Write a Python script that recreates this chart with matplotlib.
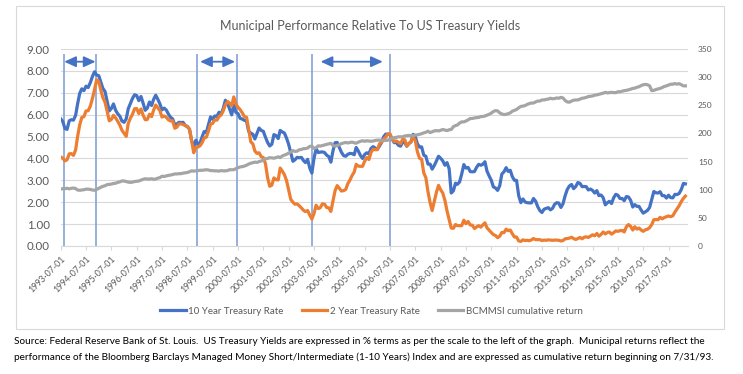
import numpy as np
import pandas as pd
import matplotlib
matplotlib.use("Agg")
import matplotlib.pyplot as plt
import matplotlib.dates as mdates
from matplotlib.patches import Rectangle
from matplotlib.lines import Line2D

plt.rcParams['font.family'] = ['Lato', 'DejaVu Sans']

title = "Municipal Performance Relative To US Treasury Yields"
series_names = ["10 Year Treasury Rate", "2 Year Treasury Rate", "BCMMSI cumulative return"]

# monthly observations, 1993-07 .. 2018-03
start_month = "1993-07-01"
end_month = "2018-03-01"

ten_year = [
    5.81, 5.68, 5.36, 5.33, 5.72, 5.77,
    5.75, 5.97, 6.48, 6.97, 7.18, 7.10, 7.30, 7.24, 7.46, 7.74, 7.96, 7.81,
    7.78, 7.47, 7.20, 7.06, 6.63, 6.17, 6.28, 6.49, 6.20, 6.04, 5.93, 5.71,
    5.65, 5.81, 6.27, 6.51, 6.74, 6.91, 6.87, 6.64, 6.83, 6.53, 6.20, 6.30,
    6.58, 6.42, 6.69, 6.89, 6.71, 6.49, 6.22, 6.30, 6.21, 6.03, 5.88, 5.81,
    5.54, 5.57, 5.65, 5.64, 5.65, 5.50, 5.46, 5.34, 4.81, 4.53, 4.83, 4.65,
    4.72, 5.00, 5.23, 5.18, 5.54, 5.90, 5.79, 5.94, 5.92, 6.11, 6.03, 6.28,
    6.66, 6.52, 6.26, 5.99, 6.44, 6.10, 6.05, 5.83, 5.80, 5.74, 5.72, 5.24,
    5.16, 5.10, 4.89, 5.14, 5.39, 5.28, 5.24, 4.97, 4.73, 4.57, 4.65, 5.09,
    5.04, 4.91, 5.28, 5.21, 5.16, 4.93, 4.65, 4.26, 3.87, 3.94, 4.05, 4.03,
    4.05, 3.90, 3.81, 3.96, 3.57, 3.33, 3.98, 4.45, 4.27, 4.29, 4.30, 4.27,
    4.15, 4.08, 3.83, 4.35, 4.72, 4.73, 4.50, 4.28, 4.13, 4.10, 4.19, 4.23,
    4.22, 4.17, 4.50, 4.34, 4.14, 4.00, 4.18, 4.26, 4.20, 4.46, 4.54, 4.47,
    4.42, 4.57, 4.72, 4.99, 5.11, 5.11, 5.09, 4.88, 4.72, 4.73, 4.60, 4.56,
    4.76, 4.72, 4.56, 4.69, 4.75, 5.10, 5.00, 4.67, 4.52, 4.53, 4.15, 4.10,
    3.74, 3.74, 3.51, 3.68, 3.88, 4.10, 4.01, 3.89, 3.69, 3.81, 3.53, 2.42,
    2.52, 2.87, 2.82, 2.93, 3.29, 3.72, 3.56, 3.59, 3.40, 3.39, 3.40, 3.59,
    3.73, 3.69, 3.73, 3.85, 3.42, 3.20, 3.01, 2.70, 2.65, 2.54, 2.76, 3.29,
    3.39, 3.58, 3.41, 3.46, 3.17, 3.00, 3.00, 2.30, 1.98, 2.15, 2.01, 1.98,
    1.97, 1.97, 2.17, 2.05, 1.80, 1.62, 1.53, 1.68, 1.72, 1.75, 1.65, 1.72,
    1.91, 1.98, 1.96, 1.76, 1.93, 2.30, 2.58, 2.74, 2.81, 2.62, 2.72, 2.90,
    2.86, 2.71, 2.72, 2.71, 2.56, 2.60, 2.54, 2.42, 2.53, 2.30, 2.33, 2.21,
    1.88, 1.98, 2.04, 1.94, 2.20, 2.36, 2.32, 2.17, 2.17, 2.07, 2.26, 2.24,
    2.09, 1.78, 1.89, 1.81, 1.81, 1.64, 1.50, 1.56, 1.63, 1.76, 2.14, 2.49,
    2.43, 2.42, 2.48, 2.30, 2.30, 2.19, 2.32, 2.21, 2.20, 2.36, 2.35, 2.40,
    2.58, 2.86, 2.84,
]

two_year = [
    4.07, 4.00, 3.89, 3.94, 4.21, 4.22,
    4.14, 4.39, 4.99, 5.53, 5.87, 5.91, 6.17, 6.18, 6.39, 6.73, 7.15, 7.59,
    7.51, 7.11, 6.78, 6.57, 6.17, 5.72, 5.78, 5.97, 5.85, 5.70, 5.52, 5.29,
    5.15, 5.01, 5.60, 5.84, 6.02, 6.27, 6.28, 6.05, 6.26, 5.98, 5.77, 5.78,
    6.02, 5.91, 6.20, 6.44, 6.32, 6.18, 5.89, 5.94, 5.88, 5.77, 5.71, 5.72,
    5.38, 5.43, 5.57, 5.58, 5.55, 5.51, 5.46, 5.34, 4.81, 4.26, 4.51, 4.52,
    4.58, 4.73, 4.94, 4.97, 5.24, 5.57, 5.60, 5.76, 5.75, 5.91, 5.99, 6.17,
    6.45, 6.60, 6.53, 6.40, 6.81, 6.48, 6.34, 6.23, 6.08, 5.91, 5.88, 5.35,
    4.76, 4.66, 4.34, 4.23, 4.26, 4.08, 4.04, 3.76, 3.12, 2.73, 2.78, 3.11,
    3.03, 3.02, 3.56, 3.42, 3.26, 2.99, 2.56, 2.13, 2.00, 1.91, 1.92, 1.84,
    1.74, 1.63, 1.57, 1.62, 1.42, 1.23, 1.47, 1.86, 1.71, 1.75, 1.93, 1.91,
    1.76, 1.74, 1.58, 2.07, 2.53, 2.76, 2.64, 2.51, 2.53, 2.58, 2.85, 3.01,
    3.22, 3.38, 3.73, 3.65, 3.64, 3.64, 3.87, 4.04, 3.95, 4.27, 4.42, 4.40,
    4.40, 4.67, 4.73, 4.89, 4.97, 5.12, 5.12, 4.90, 4.77, 4.80, 4.74, 4.67,
    4.88, 4.85, 4.57, 4.67, 4.77, 4.96, 4.82, 4.31, 4.01, 3.97, 3.34, 3.12,
    2.48, 1.97, 1.62, 2.05, 2.45, 2.77, 2.57, 2.42, 2.08, 1.61, 1.21, 0.82,
    0.81, 0.98, 0.93, 0.93, 0.93, 1.18, 1.02, 1.12, 0.96, 0.95, 0.80, 0.87,
    0.93, 0.86, 0.96, 1.06, 0.83, 0.72, 0.62, 0.52, 0.48, 0.38, 0.45, 0.62,
    0.61, 0.77, 0.70, 0.73, 0.56, 0.41, 0.41, 0.23, 0.21, 0.28, 0.25, 0.26,
    0.24, 0.28, 0.34, 0.29, 0.29, 0.29, 0.25, 0.27, 0.26, 0.28, 0.27, 0.26,
    0.27, 0.27, 0.26, 0.23, 0.25, 0.33, 0.34, 0.36, 0.40, 0.34, 0.30, 0.34,
    0.39, 0.33, 0.40, 0.42, 0.39, 0.45, 0.51, 0.47, 0.57, 0.45, 0.53, 0.64,
    0.55, 0.62, 0.64, 0.54, 0.61, 0.69, 0.67, 0.70, 0.71, 0.64, 0.88, 0.98,
    0.90, 0.73, 0.88, 0.77, 0.82, 0.73, 0.67, 0.74, 0.77, 0.84, 0.98, 1.20,
    1.21, 1.20, 1.31, 1.24, 1.30, 1.34, 1.37, 1.34, 1.38, 1.55, 1.70, 1.84,
    2.03, 2.18, 2.28,
]

bcmmsi = [
    101, 102, 102, 102.5, 101.5, 102.5,
    103, 102, 99.5, 99, 99.5, 100, 101, 101, 100.5, 99.5, 99, 100.5,
    102.5, 104.5, 106, 107, 109, 109.5, 110, 111, 111.5, 113, 114, 115.5,
    115.5, 114.5, 113.5, 113, 113.5, 114.5, 115, 115.5, 117, 118.5, 119.5, 119,
    119, 119.5, 118.5, 119, 120.5, 121.5, 124, 123.5, 124.5, 125.5, 126, 127,
    128, 128, 128.5, 128.5, 129.5, 130, 130.5, 132, 133.5, 133, 133.5, 134,
    134.5, 134.5, 135, 135.5, 135, 134, 134, 133.5, 133.5, 133, 134, 133.5,
    133.5, 134, 135.5, 135.5, 135.5, 137.5, 139, 140.5, 141, 142, 143.5, 145.5,
    147, 148, 149, 148.5, 150, 151, 153, 155, 155.5, 157, 156.5, 156,
    157, 158.5, 157, 160, 161.5, 163, 165, 167, 169.5, 168, 168.5, 171,
    171.5, 173, 173, 174, 177, 177.5, 173.5, 174.5, 178, 177.5, 178.5, 179.5,
    180.5, 181.5, 182.5, 178.5, 177.5, 178.5, 180, 182, 183, 184, 183, 184,
    184.5, 183.5, 182.5, 184.5, 186, 187, 186, 187, 186.5, 186, 186.5, 187.5,
    188, 188, 187.5, 187.5, 187.5, 188, 189.5, 191.5, 192.5, 193, 194, 194,
    194, 195.5, 196, 196.5, 196, 196, 197, 197.5, 198.5, 199.5, 201, 202,
    204, 201.5, 203, 204.5, 205, 204.5, 205.5, 207, 206, 205, 206.5, 207,
    212, 214, 215, 218.5, 220.5, 220.5, 222, 224, 226.5, 226.5, 227.5, 228,
    228.5, 230, 230, 231, 232.5, 234, 236, 239, 240.5, 240, 236.5, 234.5,
    233.5, 234, 235, 236.5, 239.5, 241, 242.5, 245.5, 248, 248.5, 249.5, 251.5,
    253, 254, 254, 256, 257.5, 257.5, 259.5, 259.5, 260.5, 261, 262.5, 261.5,
    262, 263, 262.5, 264, 263, 258.5, 256, 255.5, 257.5, 259, 259.5, 259.5,
    261, 262.5, 263, 264, 265.5, 266, 266.5, 268, 268.5, 269.5, 270.5, 271.5,
    273, 272, 272.5, 273, 272.5, 272.5, 274, 274, 275, 276, 276.5, 277.5,
    278.5, 280, 280.5, 282, 283, 285, 286.5, 287, 286.5, 284.5, 276, 276.5,
    278, 279, 280, 281.5, 283.5, 284.5, 286, 287.5, 287.5, 288.5, 287.5, 288.5,
    286.5, 284.5, 284.5,
]

tick_labels = [f"{y}-07-01" for y in range(1993, 2018)]
left_ticks = [0, 1, 2, 3, 4, 5, 6, 7, 8, 9]
right_ticks = [0, 50, 100, 150, 200, 250, 300, 350]

event_dates = ["1993-08-20", "1994-11-16", "1998-11-12", "2000-06-20", "2003-06-05", "2006-07-01"]
arrow_spans = [("1993-08-20", "1994-11-16"), ("1999-01-01", "2000-05-20"), ("2003-10-05", "2006-03-20")]

footnote = ["Source: Federal Reserve Bank of St. Louis.  US Treasury Yields are expressed in % terms as per the scale to the left of the graph.  Municipal returns reflect the",
            "performance of the Bloomberg Barclays Managed Money Short/Intermediate (1-10 Years) Index and are expressed as cumulative return beginning on 7/31/93."]

BLUE = "#4472C4"
ORANGE = "#ED7D31"
GRAY = "#A5A5A5"
EVENT = "#8DA9DB"
TXT = "#595959"
GRID = "#D9D9D9"

months = pd.date_range(start_month, end_month, freq="MS")

W, H = 743, 374
fig = plt.figure(figsize=(W / 100, H / 100), dpi=100)
fig.patch.set_facecolor("white")
fig.add_artist(Rectangle((16 / W, 45 / H), 708 / W, 323 / H, transform=fig.transFigure,
                         fill=False, edgecolor=GRID, lw=0.8))

ax = fig.add_axes([60.7 / W, 128 / H, 627.6 / W, 197 / H])
ax.set_xlim(pd.Timestamp("1993-07-01"), pd.Timestamp("2018-04-12"))
ax.set_ylim(0, 9)
ax.set_yticks(left_ticks)
ax.set_yticklabels([f"{v:.2f}" for v in left_ticks])
ax.grid(axis="y", color=GRID, lw=0.8)
ax.set_axisbelow(True)
for s in ["top", "right", "left"]:
    ax.spines[s].set_visible(False)
ax.spines["bottom"].set_color(GRID)
ax.spines["bottom"].set_linewidth(0.8)
ax.tick_params(axis="y", length=0, pad=8, labelsize=8.3, labelcolor=TXT)
ax.set_xticks(pd.to_datetime(tick_labels))
ax.set_xticklabels(tick_labels, rotation=45, ha="right", rotation_mode="anchor")
ax.tick_params(axis="x", length=3, color=GRID, width=0.8, pad=3, labelsize=6.3, labelcolor=TXT)

ax.vlines(pd.to_datetime(event_dates), 0, 8.77, color=EVENT, lw=1.3, zorder=1.5)
for a, b in arrow_spans:
    ax.annotate("", xy=(mdates.date2num(pd.Timestamp(b)), 8.42),
                xytext=(mdates.date2num(pd.Timestamp(a)), 8.42),
                arrowprops=dict(arrowstyle="<|-|>,head_length=0.7,head_width=0.32",
                                color=BLUE, lw=1.3, shrinkA=0, shrinkB=0, mutation_scale=10))

l1, = ax.plot(months, ten_year, color=BLUE, lw=2.3, zorder=3, solid_joinstyle="round")
l2, = ax.plot(months, two_year, color=ORANGE, lw=2.3, zorder=3, solid_joinstyle="round")

ax2 = ax.twinx()
ax2.set_ylim(0, 350)
ax2.set_yticks(right_ticks)
ax2.tick_params(axis="y", length=0, pad=7, labelsize=6, labelcolor=TXT)
for s in ax2.spines.values():
    s.set_visible(False)
l3, = ax2.plot(months, bcmmsi, color=GRAY, lw=2.3, zorder=3, solid_joinstyle="round")

fig.text(370 / W, 1 - 26 / H, title, ha="center", va="center", fontsize=9, color=TXT)

fig.legend([l1, l2, l3], series_names, loc="center", bbox_to_anchor=(371.5 / W, 1 - 311 / H),
           ncol=3, frameon=False, fontsize=7, handlelength=2.6, handletextpad=0.25,
           columnspacing=1.9, labelcolor=TXT)

fig.text(14 / W, 1 - 341 / H, footnote[0], ha="left", va="center", fontsize=7.2, color="black")
fig.text(14 / W, 1 - 357 / H, footnote[1], ha="left", va="center", fontsize=7.2, color="black")

fig.savefig("out.png", dpi=100, facecolor="white")
